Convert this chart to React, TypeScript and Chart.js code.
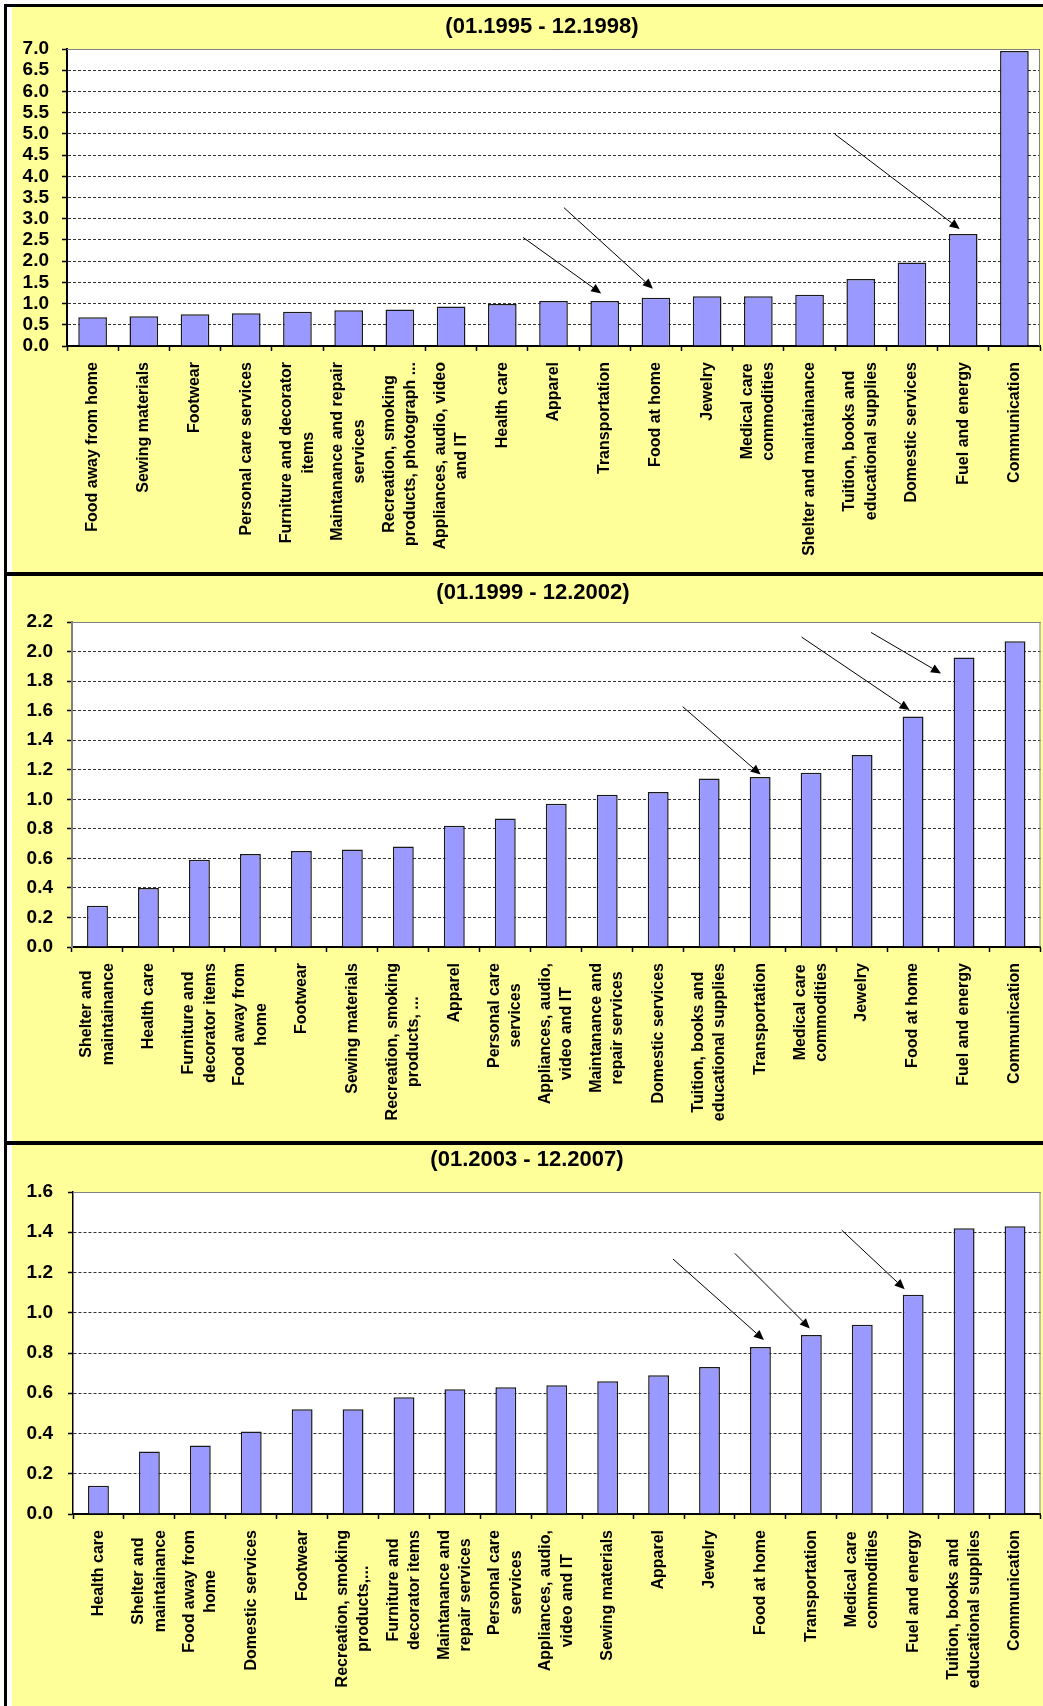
import React, { useEffect, useRef } from 'react';
import { Chart, registerables } from 'chart.js';

Chart.register(...registerables);

const FONT = '"Liberation Sans", Arial, Helvetica, sans-serif';
const YELLOW = '#FFFF99';
const BAR = '#9999FF';
const CANVAS_W = 1031;

// ---------- Panel 1: 01.1995 - 12.1998 ----------
const p1Title = '(01.1995 - 12.1998)';
const p1Categories: string[][] = [
  ['Food away from home'],
  ['Sewing materials'],
  ['Footwear'],
  ['Personal care services'],
  ['Furniture and decorator', 'items'],
  ['Maintanance and repair', 'services'],
  ['Recreation, smoking', 'products, photograph ...'],
  ['Appliances, audio, video', 'and IT'],
  ['Health care'],
  ['Apparel'],
  ['Transportation'],
  ['Food at home'],
  ['Jewelry'],
  ['Medical care', 'commodities'],
  ['Shelter and maintainance'],
  ['Tuition, books and', 'educational supplies'],
  ['Domestic services'],
  ['Fuel and energy'],
  ['Communication'],
];
const p1Values = [0.68, 0.70, 0.75, 0.77, 0.81, 0.84, 0.86, 0.93, 0.99, 1.06, 1.06, 1.14, 1.17, 1.17, 1.21, 1.58, 1.97, 2.64, 6.95];
const p1AxisMax = 7.0;
const p1AxisStep = 0.5;
const p1ArrowTargets = [10, 11, 17];

// ---------- Panel 2: 01.1999 - 12.2002 ----------
const p2Title = '(01.1999 - 12.2002)';
const p2Categories: string[][] = [
  ['Shelter and', 'maintainance'],
  ['Health care'],
  ['Furniture and', 'decorator items'],
  ['Food away from', 'home'],
  ['Footwear'],
  ['Sewing materials'],
  ['Recreation, smoking', 'products, ...'],
  ['Apparel'],
  ['Personal care', 'services'],
  ['Appliances, audio,', 'video and IT'],
  ['Maintanance and', 'repair services'],
  ['Domestic services'],
  ['Tuition, books and', 'educational supplies'],
  ['Transportation'],
  ['Medical care', 'commodities'],
  ['Jewelry'],
  ['Food at home'],
  ['Fuel and energy'],
  ['Communication'],
];
const p2Values = [0.28, 0.40, 0.59, 0.63, 0.65, 0.66, 0.68, 0.82, 0.87, 0.97, 1.03, 1.05, 1.14, 1.15, 1.18, 1.30, 1.56, 1.96, 2.07];
const p2AxisMax = 2.2;
const p2AxisStep = 0.2;
const p2ArrowTargets = [13, 16, 17];

// ---------- Panel 3: 01.2003 - 12.2007 ----------
const p3Title = '(01.2003 - 12.2007)';
const p3Categories: string[][] = [
  ['Health care'],
  ['Shelter and', 'maintainance'],
  ['Food away from', 'home'],
  ['Domestic services'],
  ['Footwear'],
  ['Recreation, smoking', 'products,...'],
  ['Furniture and', 'decorator items'],
  ['Maintanance and', 'repair services'],
  ['Personal care', 'services'],
  ['Appliances, audio,', 'video and IT'],
  ['Sewing materials'],
  ['Apparel'],
  ['Jewelry'],
  ['Food at home'],
  ['Transportation'],
  ['Medical care', 'commodities'],
  ['Fuel and energy'],
  ['Tuition, books and', 'educational supplies'],
  ['Communication'],
];
const p3Values = [0.14, 0.31, 0.34, 0.41, 0.52, 0.52, 0.58, 0.62, 0.63, 0.64, 0.66, 0.69, 0.73, 0.83, 0.89, 0.94, 1.09, 1.42, 1.43];
const p3AxisMax = 1.6;
const p3AxisStep = 0.2;
const p3ArrowTargets = [13, 14, 16];

// ---------- layout / style per panel (not data) ----------
type ArrowStyle = { tipDx: number; tipDy: number; tailDx: number; tailDy: number };
type PanelCfg = {
  title: string;
  categories: string[][];
  values: number[];
  max: number;
  step: number;
  arrowTargets: number[];
  arrowStyles: ArrowStyle[];
  top: number;
  height: number;
  yWidth: number;
  padTop: number;
  padRight: number;
  xHeight: number;
  tickPad: number;
  titleX: number;
  titleY: number;
  barPct: number;
  yBorderColor: string;
  yBorderWidth: number;
};

const panels: PanelCfg[] = [
  {
    title: p1Title, categories: p1Categories, values: p1Values, max: p1AxisMax, step: p1AxisStep,
    arrowTargets: p1ArrowTargets,
    arrowStyles: [
      { tipDx: -3.5, tipDy: -7.5, tailDx: -78, tailDy: -56 },
      { tipDx: -3, tipDy: -9, tailDx: -89, tailDy: -81 },
      { tipDx: -3.5, tipDy: -5, tailDx: -125, tailDy: -95 },
    ],
    top: 7, height: 565, yWidth: 55, padTop: 42, padRight: 3, xHeight: 226, tickPad: 13,
    titleX: 530, titleY: 20, barPct: 0.56, yBorderColor: '#000', yBorderWidth: 2,
  },
  {
    title: p2Title, categories: p2Categories, values: p2Values, max: p2AxisMax, step: p2AxisStep,
    arrowTargets: p2ArrowTargets,
    arrowStyles: [
      { tipDx: 0.5, tipDy: -2.5, tailDx: -78, tailDy: -68 },
      { tipDx: -3.5, tipDy: -6.5, tailDx: -108, tailDy: -73 },
      { tipDx: -23, tipDy: 16, tailDx: -70, tailDy: -41 },
    ],
    top: 576, height: 565, yWidth: 60, padTop: 46, padRight: 2.5, xHeight: 194, tickPad: 14,
    titleX: 521, titleY: 17, barPct: 0.41, yBorderColor: '#808080', yBorderWidth: 2,
  },
  {
    title: p3Title, categories: p3Categories, values: p3Values, max: p3AxisMax, step: p3AxisStep,
    arrowTargets: p3ArrowTargets,
    arrowStyles: [
      { tipDx: 3.5, tipDy: -7, tailDx: -91, tailDy: -81 },
      { tipDx: -1.5, tipDy: -6.5, tailDx: -75, tailDy: -75 },
      { tipDx: -8.5, tipDy: -5.5, tailDx: -63, tailDy: -59 },
    ],
    top: 1145, height: 561, yWidth: 61, padTop: 47, padRight: 2.5, xHeight: 192, tickPad: 15,
    titleX: 515, titleY: 14.5, barPct: 0.41, yBorderColor: '#000', yBorderWidth: 1.5,
  },
];

function drawArrow(ctx: CanvasRenderingContext2D, x1: number, y1: number, x2: number, y2: number) {
  const dx = x2 - x1;
  const dy = y2 - y1;
  const len = Math.sqrt(dx * dx + dy * dy);
  const ux = dx / len;
  const uy = dy / len;
  const headLen = 10;
  const headHalf = 4.5;
  const bx = x2 - ux * headLen;
  const by = y2 - uy * headLen;
  ctx.save();
  ctx.strokeStyle = '#000';
  ctx.fillStyle = '#000';
  ctx.lineWidth = 1;
  ctx.beginPath();
  ctx.moveTo(x1, y1);
  ctx.lineTo(bx, by);
  ctx.stroke();
  ctx.beginPath();
  ctx.moveTo(x2, y2);
  ctx.lineTo(bx - uy * headHalf, by + ux * headHalf);
  ctx.lineTo(bx + uy * headHalf, by - ux * headHalf);
  ctx.closePath();
  ctx.fill();
  ctx.restore();
}

function PanelChart({ cfg }: { cfg: PanelCfg }) {
  const ref = useRef<HTMLCanvasElement>(null);

  useEffect(() => {
    const canvas = ref.current;
    if (!canvas) return;

    const decor = {
      id: 'panelDecor',
      beforeDraw(chart: any) {
        const { ctx, chartArea: a, width, height } = chart;
        ctx.save();
        ctx.fillStyle = YELLOW;
        ctx.fillRect(0, 0, width, height);
        ctx.fillStyle = '#FFFFFF';
        ctx.fillRect(a.left, a.top, a.right - a.left, a.bottom - a.top);
        ctx.restore();
      },
      afterDraw(chart: any) {
        const { ctx, chartArea: a } = chart;
        const xs = chart.scales.x;
        const ys = chart.scales.y;

        // plot-area frame (top and right)
        ctx.save();
        ctx.strokeStyle = '#808080';
        ctx.lineWidth = 1;
        ctx.beginPath();
        ctx.moveTo(a.left, a.top + 0.5);
        ctx.lineTo(a.right - 0.5, a.top + 0.5);
        ctx.lineTo(a.right - 0.5, a.bottom);
        ctx.stroke();
        ctx.restore();

        // title
        ctx.save();
        ctx.fillStyle = '#000';
        ctx.font = `bold 22px ${FONT}`;
        ctx.textAlign = 'center';
        ctx.textBaseline = 'middle';
        ctx.fillText(cfg.title, cfg.titleX, cfg.titleY);
        ctx.restore();

        // category labels, rotated, centred multi-line blocks anchored under the axis
        ctx.save();
        ctx.fillStyle = '#000';
        ctx.font = `bold 16px ${FONT}`;
        ctx.textBaseline = 'middle';
        ctx.textAlign = 'center';
        const lh = 21.5;
        cfg.categories.forEach((lines, i) => {
          const x = xs.getPixelForValue(i);
          const y0 = xs.top + 16;
          const maxW = Math.max(...lines.map((l) => ctx.measureText(l).width));
          ctx.save();
          ctx.translate(x, y0);
          ctx.rotate(-Math.PI / 2);
          lines.forEach((line, k) => {
            const off = (k - (lines.length - 1) / 2) * lh;
            ctx.fillText(line, -maxW / 2, off);
          });
          ctx.restore();
        });
        ctx.restore();

        // arrows pointing at highlighted bars
        cfg.arrowTargets.forEach((idx, k) => {
          const st = cfg.arrowStyles[k];
          const bx = xs.getPixelForValue(idx);
          const by = ys.getPixelForValue(cfg.values[idx]);
          const tx = bx + st.tipDx;
          const ty = by + st.tipDy;
          drawArrow(ctx, tx + st.tailDx, ty + st.tailDy, tx, ty);
        });
      },
    };

    const chart = new Chart(canvas, {
      type: 'bar',
      data: {
        labels: cfg.categories.map((c) => c.join(' ')),
        datasets: [
          {
            data: cfg.values,
            backgroundColor: BAR,
            borderColor: '#1a1a1a',
            borderWidth: 1.5,
            barPercentage: 1,
            categoryPercentage: cfg.barPct,
          },
        ],
      },
      options: {
        responsive: false,
        animation: false,
        devicePixelRatio: 1,
        layout: { padding: { left: 0, right: cfg.padRight, top: cfg.padTop, bottom: 0 } },
        plugins: {
          legend: { display: false },
          tooltip: { enabled: false },
          title: { display: false },
        },
        scales: {
          x: {
            ticks: { display: false },
            grid: {
              display: true,
              drawOnChartArea: false,
              drawTicks: true,
              tickLength: 5,
              color: '#000',
              tickColor: '#000',
              tickWidth: 1.5,
            },
            border: { display: true, color: '#000', width: 2 },
            afterFit: (s: any) => {
              s.height = cfg.xHeight;
            },
          },
          y: {
            min: 0,
            max: cfg.max,
            ticks: {
              stepSize: cfg.step,
              autoSkip: false,
              padding: cfg.tickPad,
              color: '#000',
              font: { family: FONT, size: 19, weight: 'bold' },
              callback: (v: any) => Number(v).toFixed(1),
            },
            grid: {
              color: '#333333',
              lineWidth: 1,
              drawTicks: true,
              tickLength: 5,
              tickColor: '#000',
              tickWidth: 1.5,
            },
            border: { display: true, color: cfg.yBorderColor, width: cfg.yBorderWidth, dash: [3, 2] },
            afterFit: (s: any) => {
              s.width = cfg.yWidth;
            },
          },
        },
      } as any,
      plugins: [decor],
    });

    return () => chart.destroy();
  }, [cfg]);

  return (
    <canvas
      ref={ref}
      width={CANVAS_W}
      height={cfg.height}
      style={{ position: 'absolute', left: 12, top: cfg.top, width: CANVAS_W, height: cfg.height, display: 'block' }}
    />
  );
}

export default function App() {
  return (
    <div
      style={{
        position: 'absolute',
        left: 0,
        top: 0,
        width: 1043,
        height: 1706,
        background: '#FFFFFF',
        overflow: 'hidden',
      }}
    >
      <div
        style={{
          position: 'absolute',
          left: 4,
          top: 4,
          width: 1039,
          height: 1702,
          borderTop: '3px solid #000',
          borderLeft: '3px solid #000',
          boxSizing: 'border-box',
        }}
      />
      {panels.map((p, i) => (
        <PanelChart key={i} cfg={p} />
      ))}
      <div style={{ position: 'absolute', left: 4, top: 572, width: 1039, height: 4, background: '#000' }} />
      <div style={{ position: 'absolute', left: 4, top: 1141, width: 1039, height: 4, background: '#000' }} />
    </div>
  );
}
